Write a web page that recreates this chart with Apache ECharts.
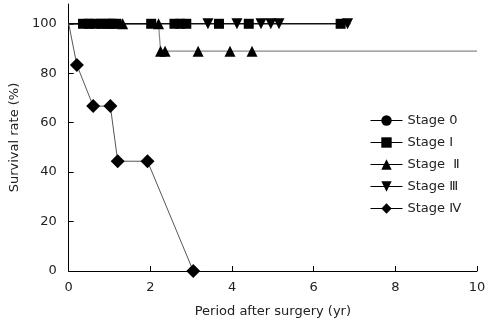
<!DOCTYPE html>
<html><head><meta charset="utf-8">
<script src="https://cdn.jsdelivr.net/npm/echarts@6/dist/echarts.min.js"></script>
<style>html,body{margin:0;padding:0;background:#fff}#c{width:497px;height:327px}</style>
</head><body><div id="c"></div>
<script>
var stageNames = ['Stage 0', 'Stage \u2160', 'Stage  \u2161', 'Stage \u2162', 'Stage \u2163'];
var xTicks = [0, 2, 4, 6, 8, 10];
var yTicks = [0, 20, 40, 60, 80, 100];
// [years, survival %]; null-symbol endpoints mark line continuation only
var stage0 = [[0, 100], [0.5, 100], [0.8, 100], [1.0, 100]];
var stage1 = [[0, 100], [0.35, 100], [0.5, 100], [0.65, 100], [0.8, 100], [0.95, 100], [1.05, 100], [1.17, 100], [2.02, 100], [2.59, 100], [2.73, 100], [2.88, 100], [3.68, 100], [4.41, 100], [6.66, 100]];
var stage2 = [[0, 100], [1.32, 100], [2.2, 100], [2.25, 88.9], [2.36, 88.9], [3.17, 88.9], [3.95, 88.9], [4.49, 88.9], [10, 88.9]];
var stage3 = [[0, 100], [3.41, 100], [4.12, 100], [4.71, 100], [4.95, 100], [5.15, 100], [6.83, 100], [6.9, 100]];
var stage4 = [[0, 100], [0.2, 83.3], [0.6, 66.7], [1.02, 66.7], [1.2, 44.4], [1.93, 44.4], [3.05, 0]];

var font = 'DejaVu Sans';
function pts(arr, hideFirst, hideLast) {
  return arr.map(function (p, i) {
    var hide = (hideFirst && i === 0) || (hideLast && i === arr.length - 1);
    return hide ? { value: p, symbol: 'none' } : { value: p };
  });
}
var chart = echarts.init(document.getElementById('c'), null, { renderer: 'canvas' });
chart.setOption({
  animation: false,
  textStyle: { fontFamily: font },
  grid: { left: 67, right: 20, top: 4, bottom: 56 },
  xAxis: {
    type: 'value', min: 0, max: 10, interval: 2,
    name: 'Period after surgery (yr)', nameLocation: 'middle', nameGap: 34,
    nameTextStyle: { color: '#222', fontSize: 13, fontFamily: font },
    axisLine: { lineStyle: { color: '#000', width: 1 } },
    axisTick: { inside: true, length: 5, lineStyle: { color: '#000' } },
    axisLabel: { color: '#222', fontSize: 13, margin: 10, fontFamily: font },
    splitLine: { show: false }
  },
  yAxis: {
    type: 'value', min: 0, max: 108,
    name: 'Survival rate (%)', nameLocation: 'middle', nameGap: 44,
    nameTextStyle: { color: '#222', fontSize: 13, fontFamily: font },
    axisLine: { show: true, lineStyle: { color: '#000', width: 1 } },
    axisTick: { show: true, inside: true, length: 5, customValues: yTicks, lineStyle: { color: '#000' } },
    axisLabel: { color: '#222', fontSize: 13, margin: 12, customValues: yTicks, fontFamily: font },
    splitLine: { show: false }
  },
  legend: {
    orient: 'vertical', left: 365, top: 109,
    itemWidth: 32, itemHeight: 13, itemGap: 9,
    lineStyle: { color: '#000', width: 1 },
    textStyle: { color: '#222', fontSize: 13, lineHeight: 13, fontFamily: font },
    data: stageNames
  },
  series: [
    { name: stageNames[0], type: 'line', data: pts(stage0, true, false), symbol: 'circle', symbolSize: 10,
      itemStyle: { color: '#000' }, lineStyle: { color: '#000', width: 1 }, z: 2 },
    { name: stageNames[2], type: 'line', data: pts(stage2, true, true), symbol: 'triangle', symbolSize: 11,
      itemStyle: { color: '#000' }, lineStyle: { color: '#888', width: 1.2 }, z: 3 },
    { name: stageNames[1], type: 'line', data: pts(stage1, true, false), symbol: 'rect', symbolSize: 10,
      itemStyle: { color: '#000' }, lineStyle: { color: '#000', width: 1 }, z: 4 },
    { name: stageNames[3], type: 'line', data: pts(stage3, true, true), symbol: 'path://M0,0 L10,0 L5,10 Z', symbolSize: 11,
      itemStyle: { color: '#000' }, lineStyle: { color: '#000', width: 1 }, z: 5 },
    { name: stageNames[4], type: 'line', data: pts(stage4, true, false), symbol: 'diamond', symbolSize: 14,
      itemStyle: { color: '#000' }, lineStyle: { color: '#555', width: 1 }, z: 6 }
  ]
});
</script></body></html>
